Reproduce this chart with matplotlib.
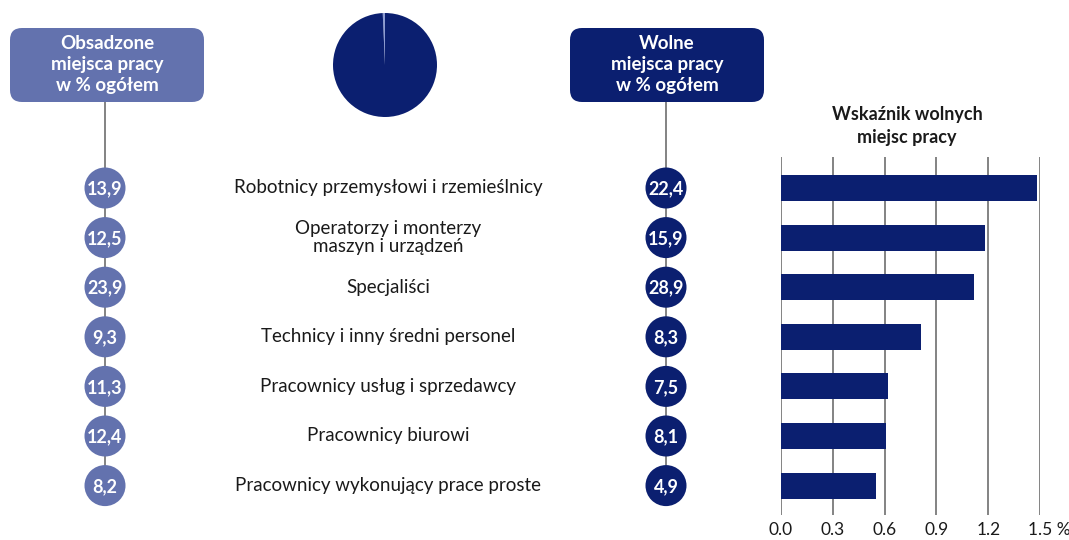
import matplotlib
matplotlib.use("Agg")
import matplotlib.pyplot as plt
from matplotlib.patches import FancyBboxPatch, Circle
from matplotlib.transforms import ScaledTranslation

plt.rcParams['font.family'] = ['Lato', 'DejaVu Sans']

categories = [
    "Robotnicy przemysłowi i rzemieślnicy",
    "Operatorzy i monterzy\nmaszyn i urządzeń",
    "Specjaliści",
    "Technicy i inny średni personel",
    "Pracownicy usług i sprzedawcy",
    "Pracownicy biurowi",
    "Pracownicy wykonujący prace proste",
]
occupied_pct = [13.9, 12.5, 23.9, 9.3, 11.3, 12.4, 8.2]
vacant_pct = [22.4, 15.9, 28.9, 8.3, 7.5, 8.1, 4.9]
vacancy_rate = [1.48, 1.18, 1.12, 0.81, 0.62, 0.61, 0.55]
pie_values = [0.7, 99.3]
xticks = [0.0, 0.3, 0.6, 0.9, 1.2, 1.5]
xtick_labels = ["0.0", "0.3", "0.6", "0.9", "1.2", "1.5 %"]

SLATE = "#6372AE"
NAVY = "#0B1F70"
LIGHT = "#8E9DD2"
GRAY = "#7a7a7a"
TEXT = "#1a1a1a"

W, H = 1069, 540
fig = plt.figure(figsize=(W / 100, H / 100), dpi=100)
ax = fig.add_axes([0, 0, 1, 1])
ax.set_xlim(0, W)
ax.set_ylim(H, 0)
ax.axis("off")

row_y = [188 + 49.6 * i for i in range(len(categories))]
left_x, right_x, label_x = 105, 666, 388
r = 20.5

# header boxes
for (x0, color, title) in [(10, SLATE, "Obsadzone\nmiejsca pracy\nw % ogółem"),
                           (570, NAVY, "Wolne\nmiejsca pracy\nw % ogółem")]:
    box = FancyBboxPatch((x0 + 12, 28 + 12), 194 - 24, 74 - 24,
                         boxstyle="round,pad=12", fc=color, ec="none", zorder=3)
    ax.add_patch(box)
    ax.text(x0 + 97, 64.5, title, ha="center", va="center", color="white",
            fontsize=13.5, fontweight="bold", linespacing=1.28, zorder=4)

# connector lines
ax.plot([left_x, left_x], [102, row_y[-1]], color=GRAY, lw=1.3, zorder=1)
ax.plot([right_x, right_x], [102, row_y[-1]], color=GRAY, lw=1.3, zorder=1)

for i, y in enumerate(row_y):
    ax.add_patch(Circle((left_x, y), r, fc=SLATE, ec="none", zorder=3))
    ax.text(left_x, y + 1, f"{occupied_pct[i]:.1f}".replace(".", ","), ha="center",
            va="center", color="white", fontsize=13, fontweight="bold", zorder=4)
    ax.add_patch(Circle((right_x, y), r, fc=NAVY, ec="none", zorder=3))
    ax.text(right_x, y + 1, f"{vacant_pct[i]:.1f}".replace(".", ","), ha="center",
            va="center", color="white", fontsize=13, fontweight="bold", zorder=4)
    ax.text(label_x, y, categories[i], ha="center", va="center", color=TEXT,
            fontsize=13.5, linespacing=1.05)

# title of bar chart
ax.text(907, 126, "Wskaźnik wolnych\nmiejsc pracy", ha="center", va="center",
        color=TEXT, fontsize=13, fontweight="bold", linespacing=1.45)

# pie
pax = fig.add_axes([333 / W, (H - 117) / H, 104 / W, 104 / H])
pax.pie(pie_values, colors=[LIGHT, NAVY], startangle=90, counterclock=True,
        wedgeprops=dict(linewidth=0))
pax.set_xlim(-1, 1)
pax.set_ylim(-1, 1)
pax.axis("off")

# bar chart
top, bottom = 157, 515
bx0, bx1 = 781, 1040
bax = fig.add_axes([bx0 / W, (H - bottom) / H, (bx1 - bx0) / W, (bottom - top) / H])
bax.set_xlim(0, 1.5)
bax.set_ylim(bottom, top)
bax.barh(row_y, vacancy_rate, height=26, color=NAVY, zorder=3)
for t in xticks:
    bax.axvline(t, color=GRAY, lw=1.3, zorder=1)
for s in bax.spines.values():
    s.set_visible(False)
bax.set_yticks([])
bax.set_xticks(xticks)
bax.set_xticklabels(xtick_labels)
bax.tick_params(axis="x", length=0, pad=5, labelsize=12.5, labelcolor=TEXT)
bax.patch.set_alpha(0)
lbls = bax.get_xticklabels()
lbls[-1].set_horizontalalignment("left")
lbls[-1].set_transform(lbls[-1].get_transform() + ScaledTranslation(-0.12, 0, fig.dpi_scale_trans))

fig.savefig("out.png", dpi=100)
